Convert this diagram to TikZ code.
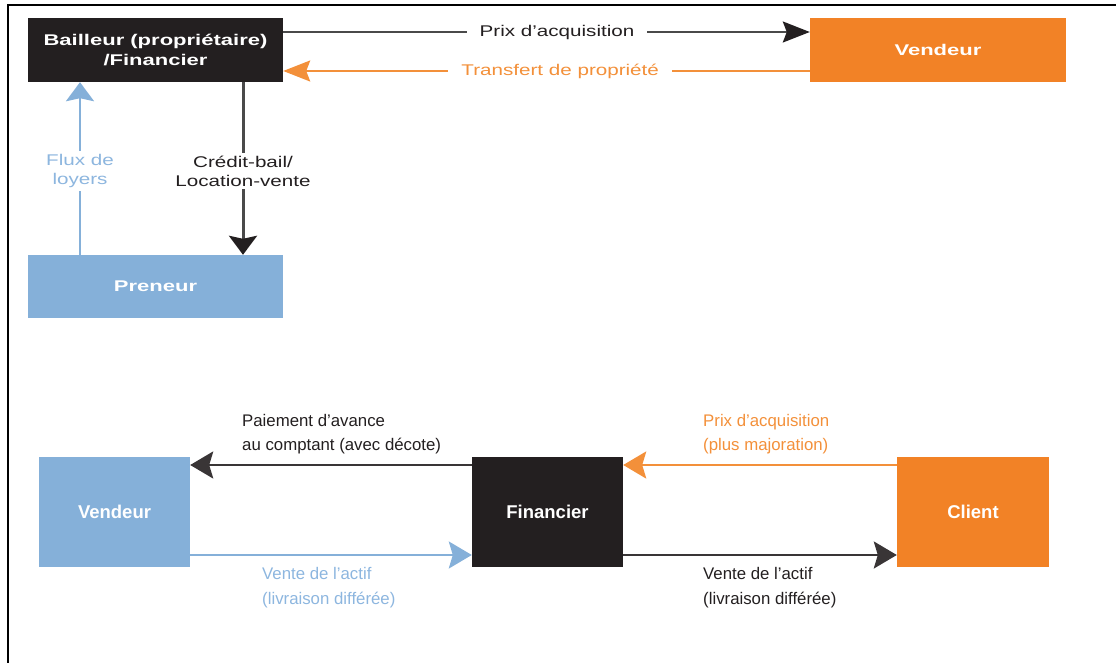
\documentclass[tikz,border=0pt]{standalone}
\usepackage{fontspec}
\setmainfont{Liberation Sans}
% wide faces for the upper scheme
\newfontfamily\wideregular{Liberation Sans}[FakeStretch=1.33]
\newfontfamily\widebold{Liberation Sans}[FakeStretch=1.42]
\usetikzlibrary{arrows.meta,calc}

\definecolor{boxblack}{HTML}{231F20}
\definecolor{boxorange}{HTML}{F28226}
\definecolor{boxblue}{HTML}{85B0D9}
\definecolor{txtorange}{HTML}{F3903A}
\definecolor{txtblue}{HTML}{8DB6DF}
\definecolor{linegray}{HTML}{4A4A4A}

\tikzset{
  box/.style={rectangle, inner sep=0pt, text=white, align=center},
  topbox/.style={box, minimum width=255pt, minimum height=64pt,
    font=\widebold\bfseries\fontsize{15.5}{20}\selectfont},
  botbox/.style={box, minimum width=151pt, minimum height=110pt,
    font=\bfseries\fontsize{18.5}{22}\selectfont},
  toplbl/.style={font=\wideregular\fontsize{15.5}{19}\selectfont, align=center,
    fill=white, inner xsep=13pt, inner ysep=3pt},
  botlbl/.style={font=\fontsize{16.8}{24.5}\selectfont, align=left, inner sep=0pt},
  hhead/.style={-{Stealth[length=27pt,width=21pt,inset=4pt]}},
  vhead/.style={-{Stealth[length=19pt,width=28pt,inset=3pt]}},
  bhead/.style={-{Stealth[length=23pt,width=27pt,inset=4pt]}},
}

\begin{document}
\begin{tikzpicture}[x=1pt,y=-1pt]
\useasboundingbox (0,0) rectangle (1116,663);

% frame
\draw[line width=2pt] (8,663) -- (8,5) -- (1116,5);

% reference levels for the connectors
\coordinate (yprix) at (0,32);
\coordinate (ytransfert) at (0,71);
\coordinate (xflux) at (80,0);
\coordinate (xcredit) at (243,0);
\coordinate (yupper) at (0,465);
\coordinate (ylower) at (0,555);

% ---------- crédit-bail ----------
\node[topbox, fill=boxblack] (bailleur) at (155.5,50) {Bailleur (propriétaire)\\/Financier};
\node[topbox, fill=boxorange, minimum width=256pt] (vendeurA) at (938,50) {Vendeur};
\node[topbox, fill=boxblue, minimum height=63pt] (preneur) at (155.5,286.5) {Preneur};

\draw[linegray, line width=2pt, -{Stealth[length=27pt,width=21pt,inset=4pt,color=boxblack]}]
  (bailleur.east |- yprix) -- node[toplbl, text=boxblack, pos=0.52] {Prix d’acquisition} (vendeurA.west |- yprix);
\draw[txtorange, line width=2pt, hhead]
  (vendeurA.west |- ytransfert) -- node[toplbl, text=txtorange, pos=0.474] {Transfert de propriété} (bailleur.east |- ytransfert);

\draw[boxblue, line width=2.6pt, vhead]
  (preneur.north -| xflux) -- node[toplbl, text=txtblue, inner xsep=2pt, pos=0.485] {Flux de\\loyers} (bailleur.south -| xflux);
\draw[linegray, line width=3pt, -{Stealth[length=19pt,width=28pt,inset=3pt,color=boxblack]}]
  (bailleur.south -| xcredit) -- node[toplbl, text=boxblack, inner xsep=2pt, pos=0.515] {Crédit-bail/\\Location-vente} (preneur.north -| xcredit);

% ---------- vente à livraison différée ----------
\node[botbox, fill=boxblue] (vendeurB) at (114.5,512) {Vendeur};
\node[botbox, fill=boxblack] (financier) at (547.5,512) {Financier};
\node[botbox, fill=boxorange, minimum width=152pt] (client) at (973,512) {Client};

\draw[boxblack!90, line width=2.5pt, bhead] (financier.west |- yupper) -- (vendeurB.east |- yupper);
\draw[boxblue, line width=2pt, bhead] (vendeurB.east |- ylower) -- (financier.west |- ylower);
\draw[txtorange, line width=2.5pt, bhead] (client.west |- yupper) -- (financier.east |- yupper);
\draw[boxblack!90, line width=2.5pt, bhead] (financier.east |- ylower) -- (client.west |- ylower);

\node[botlbl, text=boxblack, anchor=west] (lblpaiement) at (242,434) {Paiement d’avance\\au comptant (avec décote)};
\node[botlbl, text=txtblue, anchor=west] (lblventeA) at (262,587.5) {Vente de l’actif\\(livraison différée)};
\node[botlbl, text=txtorange, anchor=west] (lblprix) at (703,434) {Prix d’acquisition\\(plus majoration)};
\node[botlbl, text=boxblack, anchor=west] (lblventeB) at (703,587.5) {Vente de l’actif\\(livraison différée)};
\end{tikzpicture}
\end{document}
